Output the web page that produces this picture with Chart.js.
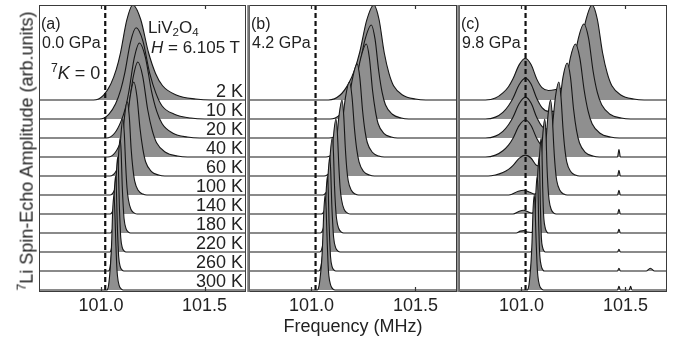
<!DOCTYPE html>
<html>
<head>
<meta charset="utf-8">
<script src="https://cdn.jsdelivr.net/npm/chart.js@4.4.0/dist/chart.umd.min.js"></script>
<style>
  body { margin: 0; background: #fff; width: 677px; height: 339px; position: relative; overflow: hidden;
         font-family: "Liberation Sans", Arial, sans-serif; color: #222; }
  canvas { position: absolute; left: 0; top: 0; }
  .t { position: absolute; white-space: nowrap; line-height: 1.15; }
  .t sub, .t sup { font-size: 0.68em; line-height: 0; }
  .t sub { vertical-align: -0.28em; }
  .t sup { vertical-align: 0.55em; }
  #ytitle { left: 27px; top: 151px; font-size: 18px; transform: translate(-50%, -50%) rotate(-90deg); }
</style>
</head>
<body>
<canvas id="chartA" width="677" height="339"></canvas>
<canvas id="chartB" width="677" height="339"></canvas>
<canvas id="chartC" width="677" height="339"></canvas>

<div class="t" style="left:41px;top:15px;font-size:16px">(a)</div>
<div class="t" style="left:42px;top:34px;font-size:16px">0.0 GPa</div>
<div class="t" style="left:148px;top:18px;font-size:17px">LiV<sub>2</sub>O<sub>4</sub></div>
<div class="t" style="left:151px;top:38px;font-size:17px"><i>H</i> = 6.105 T</div>
<div class="t" style="left:51px;top:63px;font-size:18px"><sup>7</sup><i>K</i> = 0</div>
<div class="t" style="left:251px;top:15px;font-size:16px">(b)</div>
<div class="t" style="left:252px;top:34px;font-size:16px">4.2 GPa</div>
<div class="t" style="left:461px;top:15px;font-size:16px">(c)</div>
<div class="t" style="left:462px;top:34px;font-size:16px">9.8 GPa</div>
<div class="t" id="ytitle"><sup>7</sup>Li Spin-Echo Amplitude (arb.units)</div>

<script>
// temperatures, top trace first
var temps = ['2 K', '10 K', '20 K', '40 K', '60 K', '100 K', '140 K', '180 K', '220 K', '260 K', '300 K'];
var freqTicks = [101.0, 101.5];
var kZero = 101.02; // position of 7K = 0 (dashed line), MHz

// spectra as [frequency (MHz), amplitude (arb. units)]
// (a) 0.0 GPa
var spectraA = [
  [[100.7,0],[100.964,0],[101.011,.05],[101.047,.17],[101.073,.32],[101.094,.5],[101.124,.84],[101.153,1],[101.191,.85],[101.229,.5],[101.263,.28],[101.297,.15],[101.366,.05],[101.457,.01],[101.533,0],[101.7,0]],
  [[100.7,0],[100.993,0],[101.037,.05],[101.070,.16],[101.095,.31],[101.114,.48],[101.142,.81],[101.169,.96],[101.202,.82],[101.235,.48],[101.265,.27],[101.294,.14],[101.354,.05],[101.433,.01],[101.499,0],[101.7,0]],
  [[100.7,0],[101.025,0],[101.065,.05],[101.095,.17],[101.118,.32],[101.135,.5],[101.160,.84],[101.185,1],[101.214,.85],[101.243,.5],[101.269,.28],[101.295,.15],[101.347,.05],[101.417,.01],[101.475,0],[101.7,0]],
  [[100.7,0],[101.033,0],[101.069,.05],[101.096,.17],[101.116,.32],[101.132,.5],[101.155,.84],[101.177,1],[101.201,.85],[101.225,.5],[101.247,.28],[101.268,.15],[101.311,.05],[101.369,.01],[101.417,0],[101.7,0]],
  [[100.7,0],[101.043,0],[101.072,.05],[101.093,.17],[101.109,.32],[101.122,.49],[101.140,.83],[101.158,.99],[101.173,.84],[101.188,.5],[101.202,.28],[101.215,.15],[101.242,.05],[101.278,.01],[101.308,0],[101.7,0]],
  [[100.7,0],[101.043,0],[101.064,.05],[101.079,.17],[101.091,.31],[101.100,.49],[101.113,.82],[101.126,.98],[101.136,.83],[101.145,.49],[101.154,.27],[101.162,.15],[101.179,.05],[101.202,.01],[101.221,0],[101.7,0]],
  [[100.7,0],[101.044,0],[101.059,.05],[101.071,.17],[101.079,.32],[101.086,.5],[101.096,.84],[101.105,1],[101.112,.85],[101.119,.5],[101.125,.28],[101.132,.15],[101.144,.05],[101.161,.01],[101.175,0],[101.7,0]],
  [[100.7,0],[101.044,0],[101.056,.05],[101.065,.17],[101.072,.32],[101.077,.5],[101.085,.84],[101.092,1],[101.097,.85],[101.102,.5],[101.107,.28],[101.111,.15],[101.120,.05],[101.132,.01],[101.142,0],[101.7,0]],
  [[100.7,0],[101.042,0],[101.051,.05],[101.058,.17],[101.064,.32],[101.068,.5],[101.074,.84],[101.080,1],[101.084,.85],[101.088,.5],[101.092,.28],[101.095,.15],[101.102,.05],[101.112,.01],[101.120,0],[101.7,0]],
  [[100.7,0],[101.035,0],[101.044,.05],[101.050,.17],[101.055,.32],[101.059,.5],[101.064,.84],[101.070,1],[101.074,.85],[101.078,.5],[101.082,.28],[101.085,.15],[101.092,.05],[101.102,.01],[101.110,0],[101.7,0]],
  [[100.7,0],[101.027,0],[101.036,.05],[101.042,.17],[101.047,.32],[101.051,.5],[101.056,.84],[101.062,1],[101.066,.85],[101.071,.5],[101.075,.28],[101.079,.15],[101.087,.05],[101.098,.01],[101.107,0],[101.7,0]]
];

// (b) 4.2 GPa
var spectraB = [
  [[100.7,0],[101.082,0],[101.137,.05],[101.178,.17],[101.208,.32],[101.232,.5],[101.266,.84],[101.300,1],[101.325,.85],[101.350,.5],[101.373,.28],[101.395,.15],[101.440,.05],[101.500,.01],[101.550,0],[101.7,0]],
  [[100.7,0],[101.090,0],[101.139,.05],[101.176,.17],[101.204,.32],[101.226,.5],[101.257,.83],[101.288,.99],[101.306,.84],[101.324,.5],[101.340,.28],[101.356,.15],[101.389,.05],[101.432,.01],[101.468,0],[101.7,0]],
  [[100.7,0],[101.085,0],[101.130,.05],[101.163,.17],[101.188,.32],[101.208,.5],[101.236,.83],[101.264,.99],[101.279,.84],[101.294,.5],[101.308,.28],[101.321,.15],[101.348,.05],[101.384,.01],[101.414,0],[101.7,0]],
  [[100.7,0],[101.070,0],[101.107,.05],[101.135,.17],[101.157,.31],[101.173,.49],[101.197,.82],[101.220,.98],[101.233,.83],[101.246,.49],[101.258,.27],[101.269,.15],[101.293,.05],[101.324,.01],[101.350,0],[101.7,0]],
  [[100.7,0],[101.061,0],[101.092,.05],[101.115,.17],[101.132,.32],[101.145,.49],[101.164,.83],[101.183,.99],[101.195,.84],[101.207,.5],[101.218,.28],[101.229,.15],[101.250,.05],[101.279,.01],[101.303,0],[101.7,0]],
  [[100.7,0],[101.054,0],[101.077,.05],[101.095,.17],[101.108,.32],[101.118,.5],[101.133,.84],[101.147,1],[101.155,.85],[101.163,.5],[101.170,.28],[101.177,.15],[101.192,.05],[101.211,.01],[101.227,0],[101.7,0]],
  [[100.7,0],[101.048,0],[101.065,.05],[101.078,.17],[101.088,.32],[101.096,.5],[101.107,.84],[101.118,1],[101.125,.85],[101.132,.5],[101.138,.28],[101.145,.15],[101.157,.05],[101.174,.01],[101.188,0],[101.7,0]],
  [[100.7,0],[101.042,0],[101.057,.05],[101.068,.17],[101.076,.32],[101.082,.5],[101.091,.84],[101.100,1],[101.106,.85],[101.111,.5],[101.116,.28],[101.121,.15],[101.131,.05],[101.144,.01],[101.155,0],[101.7,0]],
  [[100.7,0],[101.040,0],[101.052,.05],[101.061,.17],[101.068,.32],[101.073,.5],[101.081,.84],[101.088,1],[101.093,.85],[101.098,.5],[101.103,.28],[101.107,.15],[101.116,.05],[101.128,.01],[101.138,0],[101.7,0]],
  [[100.7,0],[101.035,0],[101.046,.05],[101.054,.17],[101.059,.32],[101.064,.5],[101.071,.84],[101.077,1],[101.081,.85],[101.085,.5],[101.089,.28],[101.092,.15],[101.099,.05],[101.109,.01],[101.117,0],[101.7,0]],
  [[100.7,0],[101.028,0],[101.037,.05],[101.044,.17],[101.050,.32],[101.054,.5],[101.060,.84],[101.066,1],[101.071,.85],[101.076,.5],[101.080,.28],[101.084,.15],[101.093,.05],[101.104,.01],[101.114,0],[101.7,0]]
];

// (c) 9.8 GPa : K = 0 line plus shifted line
var spectraC = [
  [[100.7,0],[100.827,0],[100.875,.02],[100.911,.075],[100.938,.14],[100.959,.22],[100.989,.37],[101.019,.44],[101.047,.37],[101.074,.22],[101.099,.13],[101.130,.1],[101.165,.11],[101.196,.13],[101.232,.2],[101.259,.34],[101.280,.5],[101.310,.84],[101.340,1],[101.365,.85],[101.390,.5],[101.413,.28],[101.435,.15],[101.480,.05],[101.540,.01],[101.590,0],[101.7,0]],
  [[100.7,0],[100.827,0],[100.875,.02],[100.911,.07],[100.938,.14],[100.959,.215],[100.989,.36],[101.019,.43],[101.047,.365],[101.074,.215],[101.099,.12],[101.130,.08],[101.168,.08],[101.201,.18],[101.226,.32],[101.245,.5],[101.273,.84],[101.300,1],[101.323,.85],[101.345,.5],[101.365,.28],[101.386,.15],[101.426,.05],[101.480,.01],[101.525,0],[101.7,0]],
  [[100.7,0],[100.827,0],[100.875,.02],[100.911,.07],[100.938,.14],[100.959,.215],[100.989,.36],[101.019,.43],[101.047,.365],[101.074,.215],[101.100,.12],[101.140,.09],[101.170,.19],[101.193,.33],[101.210,.5],[101.235,.84],[101.260,.99],[101.281,.84],[101.302,.5],[101.321,.28],[101.340,.15],[101.378,.05],[101.428,.01],[101.470,0],[101.7,0]],
  [[100.7,0],[100.827,0],[100.875,.02],[100.911,.066],[100.938,.125],[100.959,.195],[100.989,.33],[101.019,.39],[101.047,.33],[101.074,.195],[101.099,.12],[101.124,.11],[101.148,.2],[101.166,.34],[101.180,.5],[101.200,.84],[101.220,.99],[101.236,.84],[101.251,.5],[101.265,.28],[101.279,.15],[101.307,.05],[101.344,.01],[101.375,0],[101.462,0],[101.469,.08],[101.476,0],[101.7,0]],
  [[100.7,0],[100.840,0],[100.875,.011],[100.911,.037],[100.938,.07],[100.959,.11],[100.989,.185],[101.019,.22],[101.047,.187],[101.074,.11],[101.103,.1],[101.122,.2],[101.137,.34],[101.148,.5],[101.164,.84],[101.180,.99],[101.190,.84],[101.200,.5],[101.209,.28],[101.218,.15],[101.236,.05],[101.260,.01],[101.280,0],[101.462,0],[101.469,.06],[101.476,0],[101.7,0]],
  [[100.7,0],[100.940,0],[100.985,.04],[101.012,.05],[101.040,.03],[101.063,.01],[101.082,.05],[101.097,.17],[101.108,.32],[101.116,.5],[101.128,.84],[101.140,1],[101.148,.85],[101.156,.5],[101.163,.28],[101.170,.15],[101.185,.05],[101.204,.01],[101.220,0],[101.462,0],[101.469,.05],[101.476,0],[101.7,0]],
  [[100.7,0],[100.960,0],[100.990,.03],[101.010,.04],[101.035,.02],[101.051,.01],[101.066,.05],[101.078,.17],[101.086,.32],[101.093,.5],[101.103,.84],[101.112,1],[101.118,.85],[101.123,.5],[101.128,.28],[101.133,.15],[101.143,.05],[101.156,.01],[101.167,0],[101.462,0],[101.469,.05],[101.476,0],[101.7,0]],
  [[100.7,0],[100.975,0],[100.995,.02],[101.012,.025],[101.030,.01],[101.047,.005],[101.059,.05],[101.068,.17],[101.075,.32],[101.080,.5],[101.088,.84],[101.095,1],[101.099,.85],[101.102,.5],[101.105,.28],[101.108,.15],[101.115,.05],[101.123,.01],[101.130,0],[101.462,0],[101.469,.04],[101.476,0],[101.7,0]],
  [[100.7,0],[101.043,0],[101.054,.05],[101.062,.17],[101.067,.32],[101.072,.5],[101.079,.84],[101.085,1],[101.088,.85],[101.091,.5],[101.094,.28],[101.096,.15],[101.102,.05],[101.109,.01],[101.115,0],[101.462,0],[101.469,.03],[101.476,0],[101.7,0]],
  [[100.7,0],[101.038,0],[101.047,.05],[101.054,.17],[101.060,.32],[101.064,.5],[101.070,.84],[101.076,1],[101.080,.85],[101.083,.5],[101.086,.28],[101.089,.15],[101.096,.05],[101.104,.01],[101.111,0],[101.462,0],[101.469,.03],[101.476,0],[101.600,0],[101.620,.03],[101.640,0],[101.7,0]],
  [[100.7,0],[101.027,0],[101.036,.05],[101.042,.17],[101.047,.32],[101.051,.5],[101.056,.84],[101.062,1],[101.066,.85],[101.071,.5],[101.075,.28],[101.079,.15],[101.087,.05],[101.098,.01],[101.107,0],[101.462,0],[101.469,.04],[101.476,0],[101.518,0],[101.525,.04],[101.532,0],[101.7,0]]
];

Chart.defaults.font.family = '"Liberation Sans", Arial, sans-serif';
Chart.defaults.color = '#222';

var step = 0.2;         // vertical offset between traces
var fillGray = '#8f8f8f';
var lineColor = '#161616';

// dashed K=0 line, inward ticks, frame and temperature labels
var panelPlugin = {
    id: 'panel',
    afterDatasetsDraw: function(chart, args, opts) {
        var ctx = chart.ctx, ca = chart.chartArea, x = chart.scales.x, y = chart.scales.y;
        ctx.save();
        // dashed line
        var xk = x.getPixelForValue(kZero);
        ctx.strokeStyle = '#111';
        ctx.lineWidth = 2.2;
        ctx.setLineDash([5, 3]);
        ctx.beginPath();
        ctx.moveTo(xk, ca.top);
        ctx.lineTo(xk, ca.bottom);
        ctx.stroke();
        ctx.setLineDash([]);
        // ticks
        ctx.lineWidth = 1.2;
        ctx.strokeStyle = '#333';
        freqTicks.forEach(function(v) {
            var px = Math.round(x.getPixelForValue(v)) + 0.5;
            ctx.beginPath();
            ctx.moveTo(px, ca.top); ctx.lineTo(px, ca.top + 4);
            ctx.moveTo(px, ca.bottom); ctx.lineTo(px, ca.bottom - 4);
            ctx.stroke();
        });
        // frame
        ctx.lineWidth = 1;
        ctx.strokeStyle = '#3a3a3a';
        ctx.strokeRect(ca.left + 0.5, ca.top + 0.5, ca.width - 1, ca.height);
        if (opts.thickLeft) {
            ctx.strokeStyle = '#777';
            ctx.lineWidth = 2.5;
            ctx.beginPath();
            ctx.moveTo(ca.left - 0.5, ca.top);
            ctx.lineTo(ca.left - 0.5, ca.bottom + 1);
            ctx.stroke();
        }
        // temperature labels
        if (opts.labels) {
            ctx.fillStyle = '#222';
            ctx.font = '18px "Liberation Sans", Arial, sans-serif';
            ctx.textAlign = 'right';
            ctx.textBaseline = 'alphabetic';
            temps.forEach(function(t, i) {
                var base = (temps.length - 1 - i) * step;
                ctx.fillText(t, ca.right - 3, y.getPixelForValue(base) - 3);
            });
        }
        ctx.restore();
    }
};

function makePanel(id, spectra, left, right, opts) {
    var n = spectra.length;
    // bottom trace first so it is painted on top of the ones above it
    var datasets = spectra.map(function(pts, i) {
        var base = (n - 1 - i) * step;
        return {
            label: temps[i],
            data: pts.map(function(p) { return {x: p[0], y: p[1] + base}; }),
            fill: {value: base},
            backgroundColor: fillGray,
            borderColor: lineColor,
            borderWidth: 1.1,
            pointRadius: 0,
            cubicInterpolationMode: 'monotone'
        };
    }).reverse();

    return new Chart(document.getElementById(id), {
        type: 'line',
        data: {datasets: datasets},
        options: {
            responsive: false,
            animation: false,
            events: [],
            layout: {padding: {left: left, right: 677 - right, top: 5, bottom: 0}},
            plugins: {
                legend: {display: false},
                tooltip: {enabled: false},
                filler: {drawTime: 'beforeDatasetDraw'},
                panel: opts
            },
            scales: {
                x: {
                    type: 'linear',
                    min: 100.7,
                    max: 101.7,
                    afterBuildTicks: function(ax) { ax.ticks = freqTicks.map(function(v) { return {value: v}; }); },
                    afterFit: function(ax) { ax.height = 48; },
                    grid: {display: false, drawTicks: false},
                    border: {display: false},
                    ticks: {
                        font: {size: 18},
                        color: '#222',
                        padding: 4,
                        maxRotation: 0,
                        autoSkip: false,
                        callback: function(v) { return Number(v).toFixed(1); }
                    },
                    title: {
                        display: !!opts.title,
                        text: 'Frequency (MHz)',
                        font: {size: 18},
                        color: '#222',
                        padding: {top: 0, bottom: 1}
                    }
                },
                y: {display: false, min: -0.01, max: 3.0}
            }
        },
        plugins: [panelPlugin]
    });
}

makePanel('chartA', spectraA, 39, 246, {labels: true});
makePanel('chartB', spectraB, 249, 457, {title: true, thickLeft: true});
makePanel('chartC', spectraC, 459, 667, {thickLeft: true});
</script>
</body>
</html>
